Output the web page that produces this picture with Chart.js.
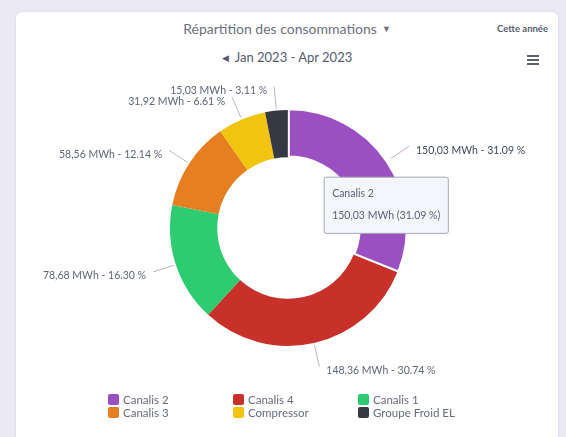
<!DOCTYPE html>
<html>
<head>
<meta charset="utf-8">
<script src="https://cdn.jsdelivr.net/npm/chart.js@4/dist/chart.umd.min.js"></script>
<style>
  html, body { margin: 0; padding: 0; }
  body { width: 566px; height: 437px; background: #ebeaf4; position: relative; overflow: hidden; font-family: Lato, sans-serif; }
  .card { position: absolute; left: 16px; top: 12px; width: 542px; height: 440px; background: #fff; border-radius: 6px; box-shadow: 0 0 3px rgba(90, 90, 130, 0.18); }
  .title { position: absolute; left: 0; width: 542px; top: 8px; text-align: center; font-size: 14px; color: #6c6f7e; }
  .title .caret { font-size: 9px; margin-left: 5px; vertical-align: 2px; }
  .year { position: absolute; right: 10px; top: 11px; font-size: 9.5px; font-weight: bold; color: #585d6e; }
  .range { position: absolute; left: 0; width: 542px; top: 37px; text-align: center; font-size: 13px; color: #545a6e; }
  .range .arrow { font-size: 9px; margin-right: 6px; vertical-align: 1px; }
  .menu { position: absolute; left: 511px; top: 43px; width: 12px; }
  .menu span { display: block; height: 2px; background: #5a5f70; margin-bottom: 2px; }
  canvas { position: absolute; left: 0; top: 0; }
</style>
</head>
<body>
<div class="card">
  <div class="title">Répartition des consommations<span class="caret">▼</span></div>
  <div class="year">Cette année</div>
  <div class="range"><span class="arrow">◀</span>Jan 2023 - Apr 2023</div>
  <div class="menu"><span></span><span></span><span></span></div>
</div>
<canvas id="chart" width="566" height="437"></canvas>
<script>
const categories = ['Canalis 2', 'Canalis 4', 'Canalis 1', 'Canalis 3', 'Compressor', 'Groupe Froid EL'];
const energyMWh = [150.03, 148.36, 78.68, 58.56, 31.92, 15.03];
const sharePct = [31.09, 30.74, 16.30, 12.14, 6.61, 3.11];
const colors = ['#9b50c2', '#c8302a', '#2ecc71', '#e67e22', '#f1c40f', '#353a42'];

const fmtMWh = v => v.toFixed(2).replace('.', ',') + ' MWh';

Chart.defaults.font.family = 'Lato, sans-serif';

Chart.Tooltip.positioners.nextToArc = function(items) {
  if (!items.length) return false;
  const p = items[0].element.tooltipPosition();
  return { x: p.x + 20, y: p.y, xAlign: 'center', yAlign: 'top' };
};

// leader lines + value labels around the ring
const outsideLabels = {
  id: 'outsideLabels',
  afterDatasetsDraw(chart) {
    const ctx = chart.ctx;
    const meta = chart.getDatasetMeta(0);
    ctx.save();
    ctx.font = '10.5px Lato, sans-serif';
    ctx.textBaseline = 'middle';
    meta.data.forEach((arc, i) => {
      const {x, y, startAngle, endAngle, outerRadius} = arc.getProps(['x', 'y', 'startAngle', 'endAngle', 'outerRadius'], true);
      const a = (startAngle + endAngle) / 2;
      const off = arc.options.offset || 0;
      const cx = x + Math.cos(a) * off, cy = y + Math.sin(a) * off;
      const x1 = cx + Math.cos(a) * (outerRadius + 2), y1 = cy + Math.sin(a) * (outerRadius + 2);
      const x2 = cx + Math.cos(a) * (outerRadius + 24), y2 = cy + Math.sin(a) * (outerRadius + 24);
      const active = arc.active;
      ctx.strokeStyle = active ? '#caa6dc' : '#b4b8c4';
      ctx.lineWidth = 1;
      ctx.beginPath();
      ctx.moveTo(x1, y1);
      ctx.lineTo(x2, y2);
      ctx.stroke();
      const right = Math.cos(a) >= 0;
      ctx.textAlign = right ? 'left' : 'right';
      ctx.fillStyle = active ? '#3f4660' : '#5f6578';
      ctx.fillText(fmtMWh(energyMWh[i]) + ' - ' + sharePct[i].toFixed(2) + ' %', x2 + (right ? 7 : -7), y2 + 4);
    });
    ctx.restore();
  }
};

// three-column legend below the chart
const gridLegend = {
  id: 'gridLegend',
  afterDraw(chart) {
    const ctx = chart.ctx;
    const cols = 3, colW = 125, rowH = 13, box = 11;
    const left = 108, top = 394;
    ctx.save();
    ctx.font = '11.5px Lato, sans-serif';
    ctx.textBaseline = 'middle';
    ctx.textAlign = 'left';
    chart.data.labels.forEach((lab, i) => {
      const bx = left + (i % cols) * colW;
      const by = top + Math.floor(i / cols) * rowH;
      ctx.fillStyle = chart.data.datasets[0].backgroundColor[i];
      ctx.beginPath();
      ctx.roundRect(bx, by, box, box, 2);
      ctx.fill();
      ctx.fillStyle = '#666b7d';
      ctx.fillText(lab, bx + box + 4, by + box / 2 + 0.5);
    });
    ctx.restore();
  }
};

const chart = new Chart(document.getElementById('chart'), {
  type: 'doughnut',
  data: {
    labels: categories,
    datasets: [{
      data: energyMWh,
      backgroundColor: colors,
      hoverBackgroundColor: colors,
      borderColor: '#ffffff',
      hoverBorderColor: '#ffffff',
      borderWidth: 0,
      hoverBorderWidth: 2,
      hoverOffset: 4
    }]
  },
  options: {
    responsive: false,
    animation: false,
    events: [],
    radius: 118,
    cutout: '60%',
    layout: { padding: { left: 10, right: 0, top: 80, bottom: 61 } },
    plugins: {
      legend: { display: false },
      tooltip: {
        position: 'nextToArc',
        backgroundColor: '#f4f6fb',
        borderColor: '#a3a8b6',
        borderWidth: 1,
        cornerRadius: 2,
        caretSize: 0,
        caretPadding: 2,
        displayColors: false,
        padding: { top: 10, bottom: 11, left: 8, right: 8 },
        titleColor: '#5b6176',
        bodyColor: '#5b6176',
        titleFont: { size: 10.5, weight: 'normal' },
        bodyFont: { size: 10.5 },
        titleMarginBottom: 10,
        callbacks: {
          label: (c) => fmtMWh(energyMWh[c.dataIndex]) + ' (' + sharePct[c.dataIndex].toFixed(2) + ' %)'
        }
      }
    }
  },
  plugins: [outsideLabels, gridLegend]
});

chart.tooltip.setActiveElements([{ datasetIndex: 0, index: 0 }], { x: 0, y: 0 });
chart.setActiveElements([{ datasetIndex: 0, index: 0 }]);
chart.update();
</script>
</body>
</html>
